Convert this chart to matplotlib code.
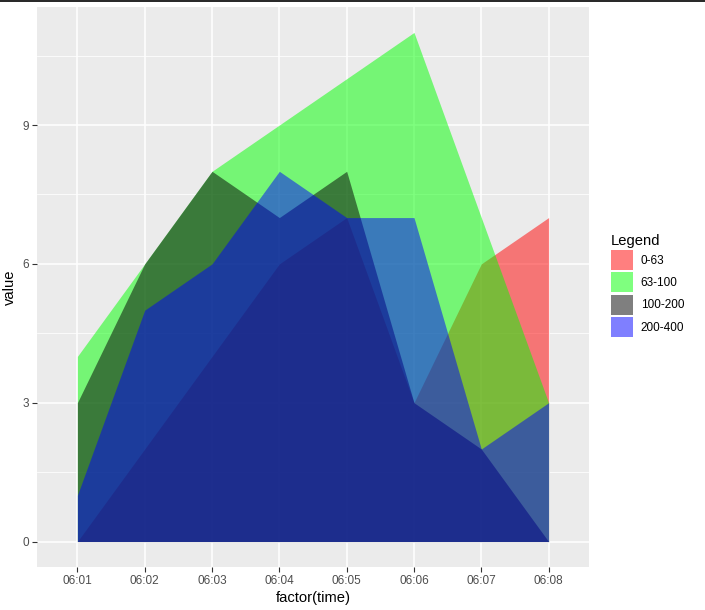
import matplotlib
matplotlib.use('Agg')
import matplotlib.pyplot as plt
from matplotlib.patches import Patch
from matplotlib.lines import Line2D
import numpy as np

# dados
times = ['06:01', '06:02', '06:03', '06:04', '06:05', '06:06', '06:07', '06:08']
grupos = ['0-63', '63-100', '100-200', '200-400']
cores = ['#FF0000', '#00FF00', '#000000', '#0000FF']
v_0_63 = [0, 2, 4, 6, 7, 3, 6, 7]
v_63_100 = [4, 6, 8, 9, 10, 11, 7, 3]
v_100_200 = [3, 6, 8, 7, 8, 3, 2, 0]
v_200_400 = [1, 5, 6, 8, 7, 7, 2, 3]
valores = [v_0_63, v_63_100, v_100_200, v_200_400]

plt.rcParams['font.family'] = ['Liberation Sans', 'DejaVu Sans']

W, H = 705, 610
fig = plt.figure(figsize=(W / 100, H / 100), dpi=100)
ax = fig.add_axes([37 / W, (H - 567) / H, 552 / W, 560 / H])
ax.set_facecolor('#EBEBEB')

x = np.arange(1, len(times) + 1)
for vals, cor in zip(valores, cores):
    ax.fill_between(x, 0, vals, color=cor, alpha=0.5, linewidth=0, zorder=3)

# grade estilo ggplot
ax.set_xlim(0.4, len(times) + 0.6)
ax.set_ylim(-0.55, 11.55)
ax.set_xticks(x)
ax.set_xticklabels(times)
ax.set_yticks([0, 3, 6, 9])
ax.set_yticks([1.5, 4.5, 7.5, 10.5], minor=True)
ax.grid(which='major', color='white', linewidth=1.1, zorder=1)
ax.grid(which='minor', axis='y', color='white', linewidth=0.55, zorder=1)
ax.set_axisbelow(True)
for s in ax.spines.values():
    s.set_visible(False)
ax.tick_params(axis='both', which='major', colors='#333333', length=3.7, width=0.8,
               labelsize=8.45, labelcolor='#4D4D4D', pad=2)
ax.tick_params(axis='y', which='minor', length=0)

ax.set_xlabel('factor(time)', fontsize=10.6, labelpad=3)
ax.set_ylabel('value', fontsize=10.6, labelpad=4)

handles = [Patch(facecolor=c, alpha=0.5, edgecolor='none') for c in cores]
leg = ax.legend(handles, grupos, title='Legend', loc='upper left',
                bbox_to_anchor=(611 / W, 1 - 233.5 / H), bbox_transform=fig.transFigure,
                frameon=False, fontsize=8.45, title_fontsize=10.6,
                handlelength=1.84, handleheight=2.25, labelspacing=0.2,
                handletextpad=0.7, borderpad=0, borderaxespad=0, alignment='left')

# linha preta no topo da imagem
fig.add_artist(Line2D([0, 1], [1 - 0.8 / H, 1 - 0.8 / H], color='black', linewidth=1.2))

plt.savefig('out.png', dpi=100)
plt.close()
